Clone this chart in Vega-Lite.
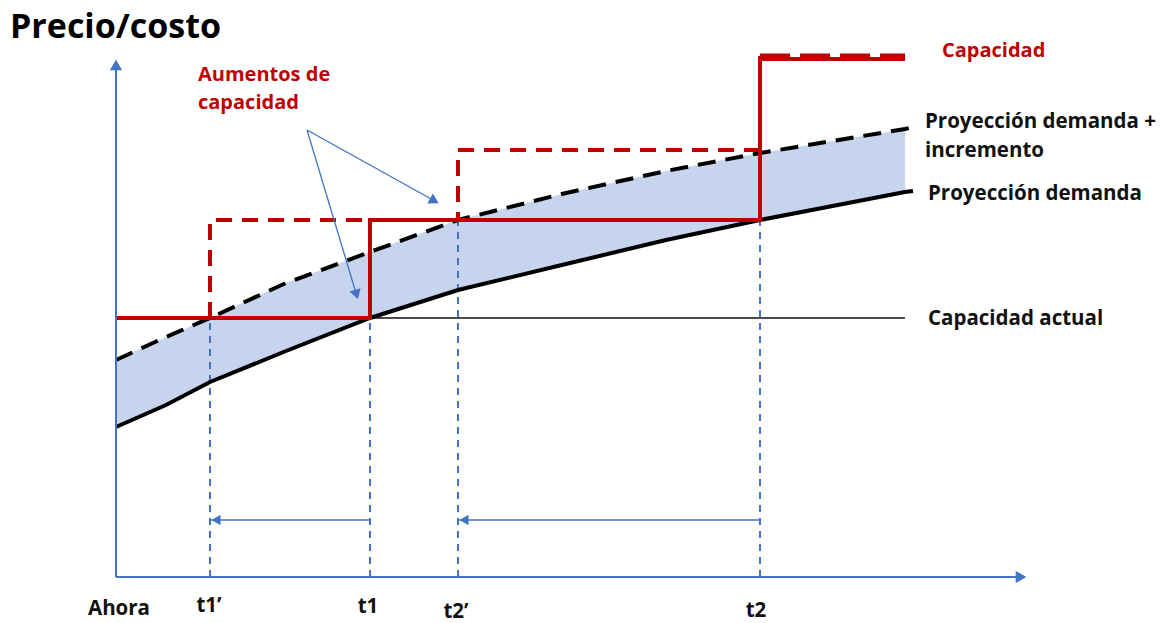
{
  "$schema": "https://vega.github.io/schema/vega-lite/v6.json",
  "width": 1169,
  "height": 623,
  "autosize": {"type": "fit", "contains": "padding"},
  "padding": 0,
  "background": "white",
  "config": {"view": {"stroke": null}, "font": "Open Sans"},
  "datasets": {
    "demanda": [
      {"t": 0, "base": 150, "alta": 217},
      {"t": 50, "base": 172, "alta": 240},
      {"t": 94, "base": 195, "alta": 259},
      {"t": 170, "base": 226, "alta": 294},
      {"t": 254, "base": 259, "alta": 325},
      {"t": 342, "base": 287, "alta": 357},
      {"t": 450, "base": 313, "alta": 384},
      {"t": 550, "base": 337, "alta": 406},
      {"t": 644, "base": 357, "alta": 424},
      {"t": 789, "base": 385, "alta": 448},
      {"t": 797, "base": 386, "alta": 450}
    ],
    "capacidad": [
      {"paso": 1, "t": 0, "v": 259},
      {"paso": 2, "t": 254, "v": 259},
      {"paso": 3, "t": 254, "v": 357},
      {"paso": 4, "t": 644, "v": 357},
      {"paso": 5, "t": 644, "v": 521}
    ],
    "adelantada": [
      {"paso": 1, "t": 94, "v": 259},
      {"paso": 2, "t": 94, "v": 357},
      {"paso": 3, "t": 342, "v": 357},
      {"paso": 4, "t": 342, "v": 427},
      {"paso": 5, "t": 644, "v": 427}
    ],
    "cortes": [
      {"t": 94, "piso": 0, "v": 259},
      {"t": 254, "piso": 0, "v": 259},
      {"t": 342, "piso": 0, "v": 357},
      {"t": 644, "piso": 0, "v": 357}
    ],
    "adelantos": [
      {"desde": 254, "hasta": 94, "v": 57},
      {"desde": 644, "hasta": 342, "v": 57}
    ],
    "llamadas": [
      {"t": 191, "v": 447, "t2": 240, "v2": 284, "giro": 163},
      {"t": 191, "v": 447, "t2": 317, "v2": 377, "giro": 119}
    ]
  },
  "layer": [
    {
      "data": {"name": "demanda"},
      "transform": [{"filter": "datum.t <= 789"}],
      "mark": {"type": "area", "color": "#c6d4ed", "opacity": 1},
      "encoding": {
        "x": {"field": "t", "type": "quantitative", "scale": {"domain": [-116, 1053], "nice": false, "zero": false}, "axis": null},
        "y": {"field": "alta", "type": "quantitative", "scale": {"domain": [-46, 577], "nice": false, "zero": false}, "axis": null},
        "y2": {"field": "base"}
      }
    },
    {
      "data": {"name": "cortes"},
      "mark": {"type": "rule", "color": "#4472c4", "strokeWidth": 2, "strokeDash": [7, 6]},
      "encoding": {
        "x": {"field": "t", "type": "quantitative"},
        "y": {"field": "piso", "type": "quantitative"},
        "y2": {"field": "v"}
      }
    },
    {
      "data": {"values": [{"t": 254, "fin": 789, "v": 259}]},
      "mark": {"type": "rule", "color": "#111111", "strokeWidth": 1.6},
      "encoding": {
        "x": {"field": "t", "type": "quantitative"},
        "x2": {"field": "fin"},
        "y": {"field": "v", "type": "quantitative"}
      }
    },
    {
      "data": {"name": "demanda"},
      "mark": {"type": "line", "color": "#000000", "strokeWidth": 4, "strokeCap": "butt"},
      "encoding": {
        "x": {"field": "t", "type": "quantitative"},
        "y": {"field": "base", "type": "quantitative"}
      }
    },
    {
      "data": {"name": "demanda"},
      "mark": {"type": "line", "color": "#000000", "strokeWidth": 4, "strokeDash": [18, 10]},
      "encoding": {
        "x": {"field": "t", "type": "quantitative"},
        "y": {"field": "alta", "type": "quantitative"}
      }
    },
    {
      "data": {"name": "adelantada"},
      "mark": {"type": "line", "color": "#c00000", "strokeWidth": 4, "strokeDash": [16, 10], "strokeJoin": "miter"},
      "encoding": {
        "x": {"field": "t", "type": "quantitative"},
        "y": {"field": "v", "type": "quantitative"},
        "order": {"field": "paso", "type": "quantitative"}
      }
    },
    {
      "data": {"name": "capacidad"},
      "mark": {"type": "line", "color": "#c00000", "strokeWidth": 4, "strokeJoin": "miter"},
      "encoding": {
        "x": {"field": "t", "type": "quantitative"},
        "y": {"field": "v", "type": "quantitative"},
        "order": {"field": "paso", "type": "quantitative"}
      }
    },
    {
      "data": {"values": [{"t": 644, "fin": 789, "v": 518}]},
      "mark": {"type": "rule", "color": "#c00000", "strokeWidth": 4},
      "encoding": {
        "x": {"field": "t", "type": "quantitative"},
        "x2": {"field": "fin"},
        "y": {"field": "v", "type": "quantitative"}
      }
    },
    {
      "data": {"values": [{"t": 644, "fin": 789, "v": 520}]},
      "mark": {"type": "rule", "color": "#c00000", "strokeWidth": 7, "strokeDash": [30, 10]},
      "encoding": {
        "x": {"field": "t", "type": "quantitative"},
        "x2": {"field": "fin"},
        "y": {"field": "v", "type": "quantitative"}
      }
    },
    {
      "data": {"name": "adelantos"},
      "mark": {"type": "rule", "color": "#4472c4", "strokeWidth": 1.3},
      "encoding": {
        "x": {"field": "desde", "type": "quantitative"},
        "x2": {"field": "hasta"},
        "y": {"field": "v", "type": "quantitative"}
      }
    },
    {
      "data": {"name": "adelantos"},
      "mark": {"type": "point", "shape": "triangle-left", "filled": true, "color": "#4472c4", "size": 110, "opacity": 1, "xOffset": 6},
      "encoding": {
        "x": {"field": "hasta", "type": "quantitative"},
        "y": {"field": "v", "type": "quantitative"}
      }
    },
    {
      "data": {"name": "llamadas"},
      "mark": {"type": "rule", "color": "#4472c4", "strokeWidth": 1.3},
      "encoding": {
        "x": {"field": "t", "type": "quantitative"},
        "y": {"field": "v", "type": "quantitative"},
        "x2": {"field": "t2"},
        "y2": {"field": "v2"}
      }
    },
    {
      "data": {"name": "llamadas"},
      "mark": {"type": "point", "shape": "triangle", "filled": true, "color": "#4472c4", "size": 130, "opacity": 1},
      "encoding": {
        "x": {"field": "t2", "type": "quantitative"},
        "y": {"field": "v2", "type": "quantitative"},
        "angle": {"field": "giro", "type": "quantitative", "scale": null}
      }
    },
    {
      "data": {"values": [{"t": 0, "v": 0, "v2": 508}]},
      "mark": {"type": "rule", "color": "#4472c4", "strokeWidth": 2},
      "encoding": {
        "x": {"field": "t", "type": "quantitative"},
        "y": {"field": "v", "type": "quantitative"},
        "y2": {"field": "v2"}
      }
    },
    {
      "data": {"values": [{"t": 0, "t2": 900, "v": 0}]},
      "mark": {"type": "rule", "color": "#4472c4", "strokeWidth": 2},
      "encoding": {
        "x": {"field": "t", "type": "quantitative"},
        "x2": {"field": "t2"},
        "y": {"field": "v", "type": "quantitative"}
      }
    },
    {
      "data": {"values": [{"t": 0, "v": 512}]},
      "mark": {"type": "point", "shape": "triangle-up", "filled": true, "color": "#4472c4", "size": 150, "opacity": 1},
      "encoding": {
        "x": {"field": "t", "type": "quantitative"},
        "y": {"field": "v", "type": "quantitative"}
      }
    },
    {
      "data": {"values": [{"t": 905, "v": 0}]},
      "mark": {"type": "point", "shape": "triangle-right", "filled": true, "color": "#4472c4", "size": 150, "opacity": 1},
      "encoding": {
        "x": {"field": "t", "type": "quantitative"},
        "y": {"field": "v", "type": "quantitative"}
      }
    },
    {
      "data": {"values": [{"txt": "Precio/costo", "t": -106, "v": 539}]},
      "mark": {"type": "text", "align": "left", "baseline": "alphabetic", "fontSize": 34, "fontWeight": "bold", "color": "#000000"},
      "encoding": {
        "x": {"field": "t", "type": "quantitative"},
        "y": {"field": "v", "type": "quantitative"},
        "text": {"field": "txt"}
      }
    },
    {
      "data": {"values": [
        {"txt": "Aumentos de", "t": 82, "v": 496},
        {"txt": "capacidad", "t": 82, "v": 468},
        {"txt": "Capacidad", "t": 826, "v": 520}
      ]},
      "mark": {"type": "text", "align": "left", "baseline": "alphabetic", "fontSize": 20, "fontWeight": "bold", "color": "#c00000"},
      "encoding": {
        "x": {"field": "t", "type": "quantitative"},
        "y": {"field": "v", "type": "quantitative"},
        "text": {"field": "txt"}
      }
    },
    {
      "data": {"values": [
        {"txt": "Proyección demanda +", "t": 809, "v": 449},
        {"txt": "incremento", "t": 809, "v": 420},
        {"txt": "Proyección demanda", "t": 812, "v": 377},
        {"txt": "Capacidad actual", "t": 812, "v": 252},
        {"txt": "Ahora", "t": -28, "v": -38}
      ]},
      "mark": {"type": "text", "align": "left", "baseline": "alphabetic", "fontSize": 20.5, "fontWeight": "bold", "color": "#111111"},
      "encoding": {
        "x": {"field": "t", "type": "quantitative"},
        "y": {"field": "v", "type": "quantitative"},
        "text": {"field": "txt"}
      }
    },
    {
      "data": {"values": [
        {"txt": "t1’", "t": 93, "v": -35},
        {"txt": "t1", "t": 252, "v": -36},
        {"txt": "t2’", "t": 340, "v": -41},
        {"txt": "t2", "t": 640, "v": -40}
      ]},
      "mark": {"type": "text", "align": "center", "baseline": "alphabetic", "fontSize": 20.5, "fontWeight": "bold", "color": "#111111"},
      "encoding": {
        "x": {"field": "t", "type": "quantitative"},
        "y": {"field": "v", "type": "quantitative"},
        "text": {"field": "txt"}
      }
    }
  ]
}
